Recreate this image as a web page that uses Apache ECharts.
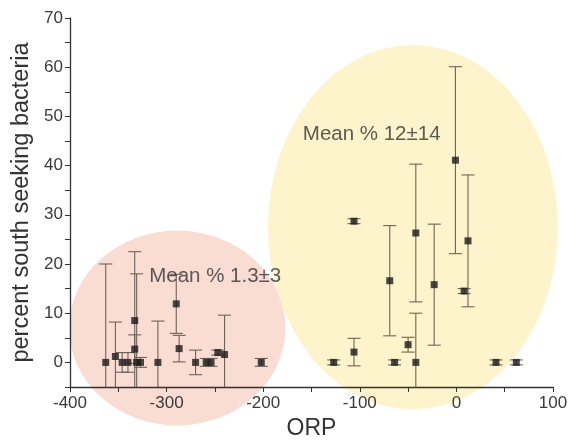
<!DOCTYPE html>
<html>
<head>
<meta charset="utf-8">
<script src="https://cdn.jsdelivr.net/npm/echarts@6/dist/echarts.min.js"></script>
<style>
  html, body { margin: 0; padding: 0; background: #fff; }
  #chart-container { width: 575px; height: 445px; }
</style>
</head>
<body>
<div id="chart-container"></div>
<script>
// ORP values, percent south seeking and the +/- error of each point
var orp = [-363, -353, -346, -340, -333, -333, -331, -327, -309, -290, -287, -270, -259, -254, -247, -240, -202,
    -127, -106, -106, -69, -64, -50, -42, -42, -23, -1, 12, 8, 41, 62];
var pct = [0, 1.2, 0, 0, 8.5, 2.7, 0, 0, 0, 11.9, 2.8, 0, 0, 0, 2.0, 1.6, 0,
    0, 2.1, 28.7, 16.6, 0, 3.6, 26.3, 0, 15.8, 41.1, 24.7, 14.5, 0, 0];
var err = [20, 7, 2, 2, 14, 2.9, 18, 1, 8.4, 6, 2.7, 2.5, 0.8, 0.8, 0.5, 8, 0.8,
    0.5, 2.8, 0.5, 11.2, 0.5, 1.5, 14, 10, 12.3, 19, 13.4, 0.5, 0.5, 0.5];

// the two shaded groups: centre x, centre y, radius x, radius y (data units)
var groups = [[-289, 7, 112, 19.8], [-45, 27.5, 150, 37]];
var groupColors = ['#f9ddd3', '#fdf4cb'];
var groupText = ['Mean % 1.3\u00b13', 'Mean % 12\u00b114'];
var textAt = [[-318, 17.4], [-159, 46.4]];

var font = '"Liberation Sans", Arial, sans-serif';

var dom = document.getElementById('chart-container');
var myChart = echarts.init(dom);

var points = orp.map(function (x, i) { return [x, pct[i]]; });
var bars = orp.map(function (x, i) { return [x, pct[i], err[i]]; });
var groupData = groups.map(function (g, i) { return g.concat([i]); });

var renderGroup = function (param, api) {
    var c = api.coord([api.value(0), api.value(1)]);
    var s = api.size([api.value(2), api.value(3)]);
    var i = api.value(4);
    return {
        type: 'circle',
        x: c[0],
        y: c[1],
        scaleY: s[1] / s[0],
        shape: { cx: 0, cy: 0, r: s[0] },
        style: { fill: groupColors[i] },
        silent: true
    };
};

var renderBar = function (param, api) {
    var x = api.value(0), y = api.value(1), e = api.value(2);
    var top = api.coord([x, y + e]);
    var bot = api.coord([x, y - e]);
    var hw = 6.5;
    var st = { stroke: '#6e6259', lineWidth: 1.1 };
    return {
        type: 'group',
        children: [
            { type: 'line', shape: { x1: top[0], y1: top[1], x2: bot[0], y2: bot[1] }, style: st },
            { type: 'line', shape: { x1: top[0] - hw, y1: top[1], x2: top[0] + hw, y2: top[1] }, style: st },
            { type: 'line', shape: { x1: bot[0] - hw, y1: bot[1], x2: bot[0] + hw, y2: bot[1] }, style: st }
        ]
    };
};

var option = {
    animation: false,
    backgroundColor: '#fff',
    grid: { left: 70, right: 22, top: 18, bottom: 50 },
    xAxis: {
        type: 'value',
        min: -400,
        max: 100,
        interval: 50,
        name: 'ORP',
        nameLocation: 'middle',
        nameGap: 30,
        nameTextStyle: { fontFamily: font, fontSize: 23, color: '#333' },
        axisLine: { onZero: false, lineStyle: { color: '#333', width: 1.3 } },
        axisTick: { length: 5, lineStyle: { color: '#333' } },
        axisLabel: {
            fontFamily: font, fontSize: 17, color: '#3a3a3a', margin: 8,
            formatter: function (v) { return v % 100 === 0 ? String(v) : ''; }
        },
        splitLine: { show: false }
    },
    yAxis: {
        type: 'value',
        min: -5,
        max: 70,
        interval: 5,
        name: 'percent south seeking bacteria',
        nameLocation: 'middle',
        nameGap: 34,
        nameTextStyle: { fontFamily: font, fontSize: 23.5, color: '#333' },
        axisLine: { show: true, onZero: false, lineStyle: { color: '#333', width: 1.3 } },
        axisTick: { show: true, length: 5, lineStyle: { color: '#333' } },
        axisLabel: {
            fontFamily: font, fontSize: 17, color: '#3a3a3a', margin: 7,
            formatter: function (v) { return v >= 0 && v % 10 === 0 ? String(v) : ''; }
        },
        splitLine: { show: false }
    },
    series: [
        {
            type: 'custom',
            renderItem: renderGroup,
            data: groupData,
            clip: false,
            silent: true,
            z: 0
        },
        {
            type: 'custom',
            renderItem: renderBar,
            data: bars,
            clip: true,
            z: 2
        },
        {
            type: 'scatter',
            symbol: 'rect',
            symbolSize: 7,
            itemStyle: { color: '#1c1a19' },
            data: points,
            z: 3
        },
        {
            type: 'scatter',
            symbolSize: 0,
            data: textAt.map(function (p, i) { return { value: p, name: groupText[i] }; }),
            label: {
                show: true,
                position: 'right',
                distance: 0,
                formatter: '{b}',
                fontFamily: font,
                fontSize: 20.5,
                color: '#333'
            },
            z: 4
        }
    ]
};

myChart.setOption(option);
</script>
</body>
</html>
